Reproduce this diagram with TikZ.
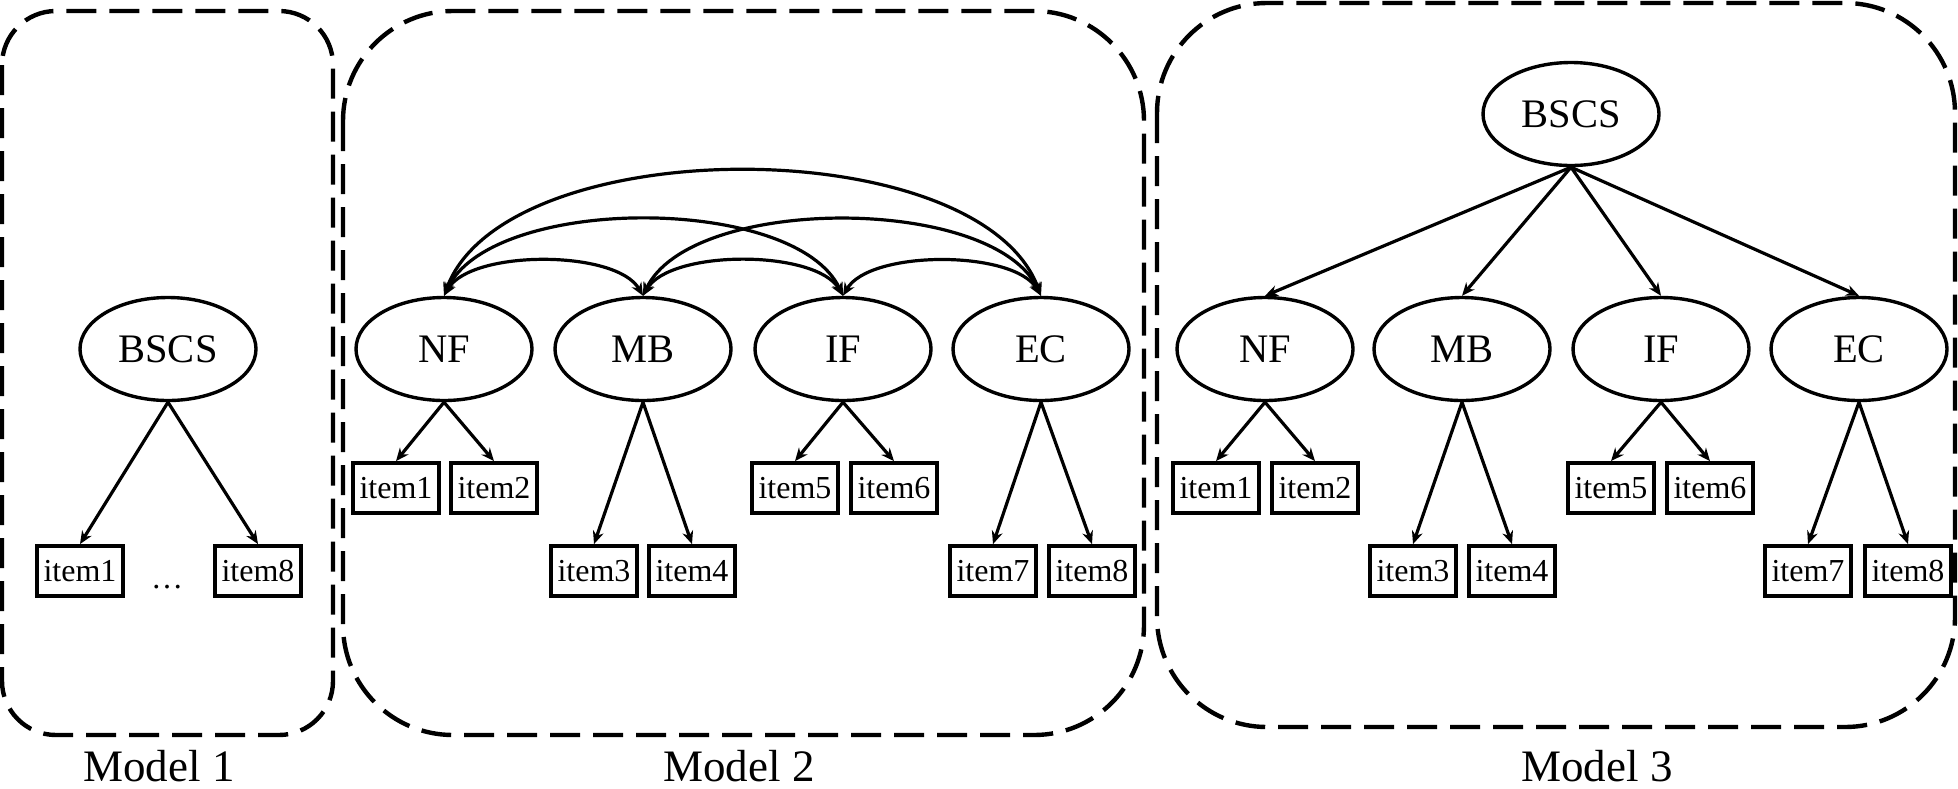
\documentclass[tikz,border=0pt]{standalone}
\usepackage{fontspec}
\setmainfont{Liberation Serif}
\usetikzlibrary{arrows.meta,shapes.geometric}
\begin{document}
\begin{tikzpicture}[x=0.5pt,y=-0.5pt,
  lat/.style={ellipse,draw,line width=1.7pt,minimum width=88pt,minimum height=51.5pt,inner sep=0pt,font=\fontsize{20.25}{24}\selectfont},
  obs/.style={rectangle,draw,line width=1.9pt,minimum width=43pt,minimum height=25pt,inner sep=0pt,font=\fontsize{16}{19}\selectfont},
  arr/.style={-{Stealth[length=6.5pt,width=5.5pt]},line width=1.6pt},
  cov/.style={{Stealth[length=6.5pt,width=5.5pt]}-{Stealth[length=6.5pt,width=5.5pt]},line width=1.6pt},
  grp/.style={draw,line width=2.2pt,dash pattern=on 15pt off 6.5pt},
  lbl/.style={anchor=base,inner sep=0pt,font=\fontsize{22.5}{27}\selectfont}]
\useasboundingbox (0,0) rectangle (1958,788);

% group frames
\draw[grp,rounded corners=27pt] (2,11) rectangle (333,735);
\draw[grp,rounded corners=55pt] (343,11) rectangle (1144,735);
\draw[grp,rounded corners=55pt] (1157,3) rectangle (1955,727);

% Model 1
\node[lat] (B1) at (168,349) {BSCS};
\node[obs] (a1) at (80,571) {item1};
\node[obs] (a8) at (258,571) {item8};
\node[anchor=base,inner sep=0pt,font=\fontsize{16}{19}\selectfont] (dots) at (167,588) {\dots};
\draw[arr] (B1.south) -- (a1.north);
\draw[arr] (B1.south) -- (a8.north);
\node[lbl] (m1) at (159,781) {Model 1};

% Model 2
\node[lat] (NF2) at (444,349) {NF};
\node[lat] (MB2) at (643,349) {MB};
\node[lat] (IF2) at (843,349) {IF};
\node[lat] (EC2) at (1041,349) {EC};
\node[obs] (b1) at (396,488) {item1};
\node[obs] (b2) at (494,488) {item2};
\node[obs] (b3) at (594,571) {item3};
\node[obs] (b4) at (692,571) {item4};
\node[obs] (b5) at (795,488) {item5};
\node[obs] (b6) at (894,488) {item6};
\node[obs] (b7) at (993,571) {item7};
\node[obs] (b8) at (1092,571) {item8};
\foreach \f/\i in {NF2/b1,NF2/b2,MB2/b3,MB2/b4,IF2/b5,IF2/b6,EC2/b7,EC2/b8}
  \draw[arr] (\f.south) -- (\i.north);
\draw[cov] (NF2.north) to[out=60,in=120,looseness=0.69] (MB2.north);
\draw[cov] (MB2.north) to[out=60,in=120,looseness=0.69] (IF2.north);
\draw[cov] (IF2.north) to[out=60,in=120,looseness=0.69] (EC2.north);
\draw[cov] (NF2.north) to[out=65,in=115,looseness=0.72] (IF2.north);
\draw[cov] (MB2.north) to[out=65,in=115,looseness=0.72] (EC2.north);
\draw[cov] (NF2.north) to[out=70,in=110,looseness=0.76] (EC2.north);
\node[lbl] (m2) at (739,781) {Model 2};

% Model 3
\node[lat] (B3) at (1571,114) {BSCS};
\node[lat] (NF3) at (1265,349) {NF};
\node[lat] (MB3) at (1462,349) {MB};
\node[lat] (IF3) at (1661,349) {IF};
\node[lat] (EC3) at (1859,349) {EC};
\node[obs] (c1) at (1216,488) {item1};
\node[obs] (c2) at (1315,488) {item2};
\node[obs] (c3) at (1413,571) {item3};
\node[obs] (c4) at (1512,571) {item4};
\node[obs] (c5) at (1611,488) {item5};
\node[obs] (c6) at (1710,488) {item6};
\node[obs] (c7) at (1808,571) {item7};
\node[obs] (c8) at (1908,571) {item8};
\foreach \f in {NF3,MB3,IF3,EC3}
  \draw[arr] (B3.south) -- (\f.north);
\foreach \f/\i in {NF3/c1,NF3/c2,MB3/c3,MB3/c4,IF3/c5,IF3/c6,EC3/c7,EC3/c8}
  \draw[arr] (\f.south) -- (\i.north);
\node[lbl] (m3) at (1597,781) {Model 3};
\end{tikzpicture}
\end{document}
